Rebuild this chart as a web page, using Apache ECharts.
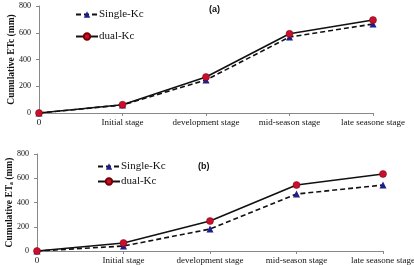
<!DOCTYPE html>
<html>
<head>
<meta charset="utf-8">
<script src="https://cdn.jsdelivr.net/npm/echarts@6/dist/echarts.min.js"></script>
<style>
  html, body { margin: 0; padding: 0; background: #fff; }
  #chart { width: 414px; height: 265px; }
</style>
</head>
<body>
<div id="chart"></div>
<script>
// stages on the x axis
const stages = ["0", "Initial stage", "development stage", "mid-season stage", "late seasone stage"];
const yTicks = [0, 200, 400, 600, 800];

// (a) cumulative ETc
const singleA = [0, 60, 247, 568, 665];
const dualA = [0, 62, 269, 592, 695];
// (b) cumulative ETa
const singleB = [0, 41, 181, 470, 544];
const dualB = [0, 66, 247, 544, 635];

const serif = "Liberation Serif, serif";
const red = "#C8102E";
const navy = "#1F1F8C";

let myChart = echarts.init(document.getElementById("chart"));

function xAxis(gridIndex) {
  return {
    gridIndex: gridIndex,
    type: "category",
    boundaryGap: false,
    data: stages,
    axisLine: { lineStyle: { color: "#888", width: 1 } },
    axisTick: { show: true, length: 3, alignWithLabel: true, lineStyle: { color: "#888" } },
    axisLabel: { fontFamily: serif, fontSize: 9, color: "#111", margin: 5, interval: 0 }
  };
}

function yAxis(gridIndex, name) {
  return {
    gridIndex: gridIndex,
    type: "value",
    min: yTicks[0],
    max: yTicks[yTicks.length - 1],
    interval: 200,
    name: name,
    nameLocation: "middle",
    nameGap: 22,
    nameMoveOverlap: false,
    nameTextStyle: { fontFamily: serif, fontSize: 9.5, fontWeight: "bold", color: "#111" },
    axisLine: { show: true, lineStyle: { color: "#888", width: 1 } },
    axisTick: { show: true, length: 3, lineStyle: { color: "#888" } },
    axisLabel: { fontFamily: serif, fontSize: 8, color: "#111", margin: 8 },
    splitLine: { show: false }
  };
}

function single(data, idx) {
  return {
    name: "Single-Kc",
    type: "line",
    xAxisIndex: idx,
    yAxisIndex: idx,
    data: data,
    symbol: "triangle",
    symbolSize: 7,
    itemStyle: { color: navy },
    lineStyle: { color: "#111", width: 1.6, type: [5, 3] },
    z: 2
  };
}

function dual(data, idx) {
  return {
    name: "dual-Kc",
    type: "line",
    xAxisIndex: idx,
    yAxisIndex: idx,
    data: data,
    symbol: "circle",
    symbolSize: 7,
    itemStyle: { color: red, borderColor: "#7a0000", borderWidth: 0.5 },
    lineStyle: { color: "#111", width: 1.6 },
    z: 3
  };
}

let option = {
  backgroundColor: "#fff",
  animation: false,
  title: [
    { text: "(a)", left: 204, top: 0, textStyle: { fontFamily: "Liberation Sans", fontSize: 9, fontWeight: "bold", color: "#111" } },
    { text: "(b)", left: 193, top: 157, textStyle: { fontFamily: "Liberation Sans", fontSize: 9, fontWeight: "bold", color: "#111" } }
  ],
  grid: [
    { left: 39, right: 41, top: 6, height: 107, outerBoundsMode: "none" },
    { left: 37, right: 31, top: 154, height: 97, outerBoundsMode: "none" }
  ],
  legend: [
    {
      orient: "vertical",
      left: 70,
      top: 4,
      itemWidth: 22,
      itemHeight: 8,
      itemGap: 11,
      data: ["Single-Kc", "dual-Kc"],
      textStyle: { fontFamily: serif, fontSize: 11, color: "#111", padding: [0, 0, 0, -4] }
    },
    {
      orient: "vertical",
      left: 92,
      top: 156,
      itemWidth: 22,
      itemHeight: 8,
      itemGap: 4,
      data: ["Single-Kc", "dual-Kc"],
      textStyle: { fontFamily: serif, fontSize: 11, color: "#111", padding: [0, 0, 0, -4] }
    }
  ],
  xAxis: [xAxis(0), xAxis(1)],
  yAxis: [yAxis(0, "Cumulative ETc (mm)"), yAxis(1, "Cumulative ETₐ (mm)")],
  series: [
    single(singleA, 0),
    dual(dualA, 0),
    single(singleB, 1),
    dual(dualB, 1)
  ]
};

myChart.setOption(option);
</script>
</body>
</html>
